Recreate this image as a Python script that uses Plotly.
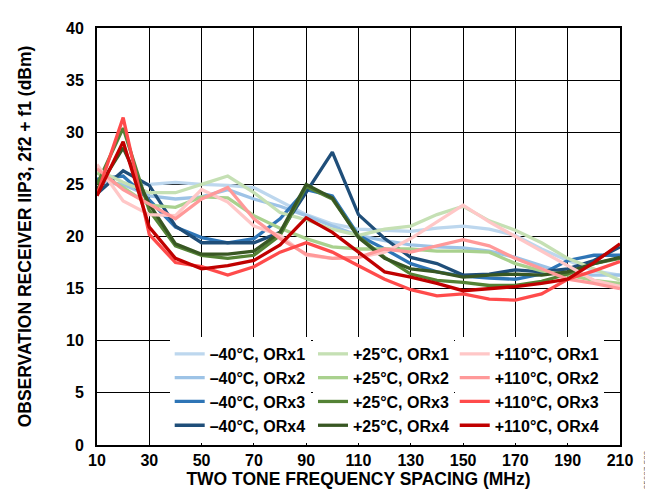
import plotly.graph_objects as go

freq = [10, 20, 30, 40, 50, 60, 70, 80, 90, 100, 110, 120, 130, 140, 150, 160, 170, 180, 190, 200, 210]

m40_orx1 = [25.3, 25.0, 25.0, 25.2, 25.0, 24.9, 24.7, 23.4, 22.1, 21.2, 20.7, 20.6, 20.5, 20.8, 21.0, 20.7, 20.1, 18.8, 17.7, 16.7, 16.3]
m40_orx2 = [25.2, 25.0, 23.9, 23.6, 23.8, 24.5, 23.6, 22.9, 22.0, 21.0, 20.1, 19.6, 19.2, 19.0, 18.9, 18.6, 18.0, 17.2, 16.4, 16.3, 16.3]
m40_orx3 = [25.5, 25.8, 23.5, 20.9, 19.9, 19.4, 19.8, 21.7, 24.5, 23.9, 20.1, 18.8, 17.4, 16.6, 16.2, 16.0, 15.9, 16.4, 17.7, 18.2, 18.2]
m40_orx4 = [24.1, 26.3, 24.9, 21.0, 19.4, 19.4, 19.4, 20.4, 24.2, 28.1, 22.1, 19.8, 18.0, 17.4, 16.3, 16.4, 16.8, 16.6, 16.9, 17.7, 19.0]

p25_orx1 = [26.4, 25.2, 24.2, 24.2, 25.0, 25.8, 24.2, 22.3, 21.6, 20.7, 20.1, 20.7, 21.0, 22.1, 22.9, 21.5, 20.6, 19.4, 17.9, 16.9, 15.8]
p25_orx2 = [26.1, 24.7, 23.0, 22.8, 23.8, 23.7, 22.0, 20.8, 19.8, 19.0, 18.8, 18.8, 18.8, 18.6, 18.6, 18.5, 17.4, 16.7, 16.3, 15.8, 15.5]
p25_orx3 = [25.0, 30.4, 22.5, 19.1, 18.2, 17.9, 18.2, 20.1, 24.8, 23.6, 20.0, 18.0, 16.4, 15.8, 15.6, 15.3, 15.3, 15.7, 16.4, 17.4, 17.9]
p25_orx4 = [24.5, 28.5, 23.1, 19.3, 18.3, 18.3, 18.6, 20.4, 25.0, 23.7, 19.9, 17.9, 16.9, 16.6, 16.1, 16.3, 16.4, 16.3, 16.6, 17.4, 18.0]

p110_orx1 = [26.9, 23.4, 22.1, 22.0, 24.5, 23.3, 21.0, 20.1, 18.2, 17.9, 18.0, 18.5, 19.8, 21.4, 23.0, 21.4, 20.0, 18.6, 17.2, 15.8, 15.2]
p110_orx2 = [26.5, 24.5, 23.1, 21.7, 23.6, 24.7, 21.7, 19.8, 18.3, 17.9, 18.0, 18.8, 18.5, 19.1, 19.7, 19.1, 17.9, 16.9, 15.9, 15.5, 15.0]
p110_orx3 = [24.0, 31.4, 20.2, 17.5, 17.1, 16.3, 17.1, 18.5, 19.4, 18.5, 17.2, 15.9, 14.9, 14.3, 14.5, 14.0, 13.9, 14.5, 15.9, 16.7, 17.6]
p110_orx4 = [23.9, 29.1, 20.9, 17.9, 16.9, 17.2, 17.7, 19.2, 21.8, 20.4, 18.5, 16.6, 16.1, 15.5, 14.8, 15.0, 15.2, 15.5, 15.9, 17.5, 19.3]

series_names = [
    "\u201340\u00b0C, ORx1", "\u201340\u00b0C, ORx2", "\u201340\u00b0C, ORx3", "\u201340\u00b0C, ORx4",
    "+25\u00b0C, ORx1", "+25\u00b0C, ORx2", "+25\u00b0C, ORx3", "+25\u00b0C, ORx4",
    "+110\u00b0C, ORx1", "+110\u00b0C, ORx2", "+110\u00b0C, ORx3", "+110\u00b0C, ORx4",
]
series_values = [m40_orx1, m40_orx2, m40_orx3, m40_orx4,
                 p25_orx1, p25_orx2, p25_orx3, p25_orx4,
                 p110_orx1, p110_orx2, p110_orx3, p110_orx4]
colors = ["#BDD7EE", "#9DC3E6", "#2E75B6", "#1F4E79",
          "#C5E0B4", "#A9D18E", "#548235", "#385723",
          "#FFC7C7", "#FF9999", "#FF4B4B", "#C00000"]

FONT = "Liberation Sans, Arial, sans-serif"
legend_ids = ["legend", "legend2", "legend3"]

fig = go.Figure()
for i, (name, vals, col) in enumerate(zip(series_names, series_values, colors)):
    grp, idx = divmod(i, 4)
    fig.add_trace(go.Scatter(
        x=freq, y=vals, mode="lines", name=name,
        line=dict(color=col, width=3.3),
        legend=legend_ids[grp],
    ))

legend_font = dict(family=FONT, size=16, color="black", weight="bold")
legend_common = dict(
    orientation="v", y=0.132, yanchor="middle", xanchor="left",
    bgcolor="white", borderwidth=0, font=legend_font,
    tracegroupgap=0, itemwidth=30, traceorder="normal",
)

fig.update_layout(
    width=653, height=493,
    margin=dict(l=89, r=41, t=18, b=56),
    paper_bgcolor="white", plot_bgcolor="white",
    showlegend=True,
    legend=dict(x=0.139, **legend_common),
    legend2=dict(x=0.413, **legend_common),
    legend3=dict(x=0.684, **legend_common),
    font=dict(family=FONT, color="black"),
)

fig.update_xaxes(
    range=[10, 210], tick0=10, dtick=20,
    showgrid=True, gridcolor="black", gridwidth=1.3,
    showline=True, linecolor="black", linewidth=2, mirror=True,
    zeroline=False, ticks="",
    tickfont=dict(family=FONT, size=16, color="black", weight="bold"),
    title=dict(text="TWO TONE FREQUENCY SPACING (MHz)", standoff=5,
               font=dict(family=FONT, size=17.5, color="black", weight="bold")),
)
fig.update_yaxes(
    range=[0, 40], tick0=0, dtick=5,
    showgrid=True, gridcolor="black", gridwidth=1.3,
    showline=True, linecolor="black", linewidth=2, mirror=True,
    zeroline=False, ticks="", ticklabelstandoff=8,
    tickfont=dict(family=FONT, size=16, color="black", weight="bold"),
    title=dict(text="OBSERVATION RECEIVER IIP3, 2f2 + f1 (dBm)", standoff=30,
               font=dict(family=FONT, size=17.5, color="black", weight="bold")),
)

fig.add_annotation(
    text="25607-522", x=1.05, y=-0.06, xref="paper", yref="paper",
    xanchor="center", yanchor="middle", textangle=-90, showarrow=False,
    font=dict(family=FONT, size=8, color="#555555"),
)

fig.write_html("out.html")
